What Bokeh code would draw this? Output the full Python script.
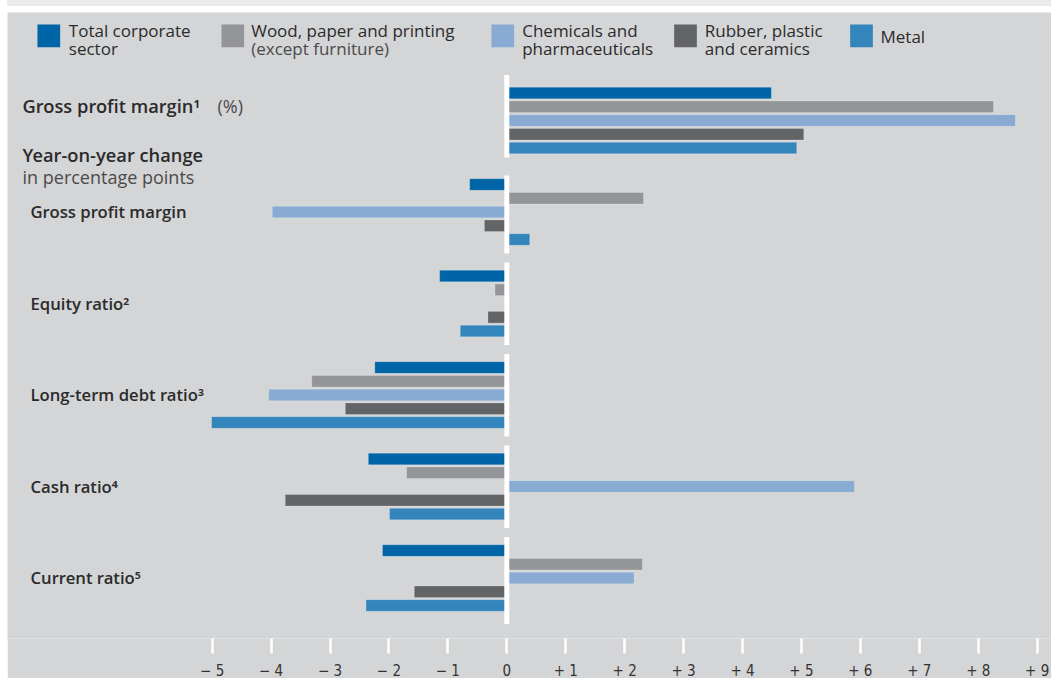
from bokeh.plotting import figure
from bokeh.models import Range1d, FixedTicker, ColumnDataSource, Div
from bokeh.layouts import column
from bokeh.core.properties import value
from bokeh.embed import file_html
from bokeh.resources import INLINE

# ---- data -------------------------------------------------------------
# rows, top to bottom: level of gross profit margin (%), then year-on-year
# changes in percentage points
row_labels = ["Gross profit margin¹", "Gross profit margin", "Equity ratio²",
              "Long-term debt ratio³", "Cash ratio⁴", "Current ratio⁵"]

total_corporate = [4.49, -0.63, -1.14, -2.24, -2.35, -2.11]
wood_paper = [8.26, 2.32, -0.20, -3.31, -1.70, 2.30]
chemicals = [8.63, -3.98, 0.00, -4.04, 5.90, 2.16]
rubber_plastic = [5.04, -0.38, -0.32, -2.74, -3.76, -1.57]
metal = [4.92, 0.39, -0.79, -5.01, -1.99, -2.39]

legend_line1 = ["Total corporate", "Wood, paper and printing", "Chemicals and",
                "Rubber, plastic", "Metal"]
legend_line2 = ["sector", "(except furniture)", "pharmaceuticals",
                "and ceramics", ""]

tick_values = list(range(-5, 10))
tick_labels = ["\u2212 5", "\u2212 4", "\u2212 3", "\u2212 2", "\u2212 1", "0",
               "+ 1", "+ 2", "+ 3", "+ 4", "+ 5", "+ 6", "+ 7", "+ 8", "+ 9"]

# ---- styling ----------------------------------------------------------
series = [total_corporate, wood_paper, chemicals, rubber_plastic, metal]
colors = ["#0065a6", "#949598", "#89aad2", "#636466", "#3585bd"]
PANEL = "#d4d5d7"
TEXT = "#2b2b2b"
SOFT_TEXT = "#4a4a4a"
FONT = "Open Sans"
HEAD_FONT = "'Open Sans SemiBold', 'Open Sans'"

FRAME_W, FRAME_H = 1044, 626
PX_PER_UNIT = 58.93
ZERO_PX = 499.3

BAND_TOP = 62.5      # top of the first row band (px from frame top)
BAND_H = 91.5        # height of each row band
FIRST_BAR = 18.0     # centre of the first bar below band top
BAR_STEP = 13.75
BAR_H = 11.7


def xdata(px):
    """Horizontal pixel offset in the frame -> value on the x scale."""
    return (px - ZERO_PX) / PX_PER_UNIT


p = figure(frame_width=FRAME_W, frame_height=FRAME_H, min_border=0,
           x_range=Range1d(xdata(0), xdata(FRAME_W)),
           y_range=Range1d(FRAME_H, 0),
           y_axis_location=None, x_axis_location="below",
           toolbar_location=None, output_backend="svg",
           background_fill_color=PANEL, border_fill_color=PANEL,
           margin=(6, 0, 0, 7))
p.outline_line_color = None
p.grid.visible = False

# ---- bars ---------------------------------------------------------------
n_rows = len(row_labels)
for s, (vals, col) in enumerate(zip(series, colors)):
    ys = [BAND_TOP + g * BAND_H + FIRST_BAR + s * BAR_STEP for g in range(n_rows)]
    src = ColumnDataSource(dict(y=ys, v=vals))
    p.hbar(y="y", left=0, right="v", height=BAR_H, source=src,
           fill_color=col, line_color="white", line_alpha=0.22, line_width=1)

# ---- white zero line, broken between rows --------------------------------
gaps = [0, 9, 4.5, 4.5, 4.5, 4.5, 0]
y0 = [BAND_TOP + g * BAND_H + gaps[g] for g in range(n_rows)]
y1 = [BAND_TOP + (g + 1) * BAND_H - gaps[g + 1] for g in range(n_rows)]
p.segment(x0=[0] * n_rows, x1=[0] * n_rows, y0=y0, y1=y1,
          line_color="white", line_width=5)

# ---- left-hand headings ------------------------------------------------------
p.text(x=[xdata(15)], y=[93.0], text=[row_labels[0]],
       text_font=value(HEAD_FONT), text_font_size="18.3px",
       text_color=TEXT, text_baseline="alphabetic")
p.text(x=[xdata(210)], y=[93.0], text=["(%)"],
       text_font=value(FONT), text_font_size="18px",
       text_color=SOFT_TEXT, text_baseline="alphabetic")
p.text(x=[xdata(15)], y=[142.0], text=["Year-on-year change"],
       text_font=value(HEAD_FONT), text_font_size="18.3px",
       text_color=TEXT, text_baseline="alphabetic")
p.text(x=[xdata(15)], y=[164.3], text=["in percentage points"],
       text_font=value(FONT), text_font_size="18px",
       text_color=SOFT_TEXT, text_baseline="alphabetic")

row_y = [BAND_TOP + g * BAND_H + FIRST_BAR + 2 * BAR_STEP - 0.5
         for g in range(1, n_rows)]
p.text(x=[xdata(23)] * (n_rows - 1), y=row_y, text=row_labels[1:],
       text_font=value(HEAD_FONT), text_font_size="16.7px",
       text_color=TEXT, text_baseline="alphabetic")

# ---- legend ---------------------------------------------------------------------
sq_x = [41.3, 225.3, 495.3, 678.0, 854.0]
txt_x = [61.3, 243.7, 514.7, 697.3, 873.0]
p.rect(x=[xdata(v) for v in sq_x], y=[23.3] * 5, width=22.7, height=22.7,
       width_units="screen", height_units="screen",
       fill_color=colors, line_color=None)
one_line = [t2 == "" for t2 in legend_line2]
p.text(x=[xdata(v) for v in txt_x],
       y=[23.7 if single else 18.3 for single in one_line],
       text=legend_line1, text_font=value(FONT), text_font_size="17px",
       text_color=TEXT, text_baseline="alphabetic")
p.text(x=[xdata(v) for v, t in zip(txt_x, legend_line2) if t],
       y=[36.0] * sum(1 for t in legend_line2 if t),
       text=[t for t in legend_line2 if t],
       text_font=value(FONT), text_font_size="17px",
       text_color=[SOFT_TEXT if t.startswith("(") else TEXT
                   for t in legend_line2 if t],
       text_baseline="alphabetic")

# ---- x axis -----------------------------------------------------------------------
ax = p.xaxis[0]
ax.ticker = FixedTicker(ticks=tick_values)
ax.major_label_overrides = dict(zip(tick_values, tick_labels))
ax.axis_line_color = None
ax.major_tick_line_color = "white"
ax.major_tick_line_width = 2.5
ax.major_tick_in = 0
ax.major_tick_out = 15
ax.minor_tick_line_color = None
ax.major_label_standoff = 8
ax.major_label_text_font = "'Liberation Sans Narrow', 'DejaVu Sans Condensed', sans-serif"
ax.major_label_text_font_size = "15px"
ax.major_label_text_color = "#333333"

band = Div(text="", width=FRAME_W, height=6, margin=(0, 0, 0, 7),
           styles={"background-color": "#ebebed"})

layout = column(band, p, spacing=0)
open("out.html", "w").write(file_html(layout, INLINE))
